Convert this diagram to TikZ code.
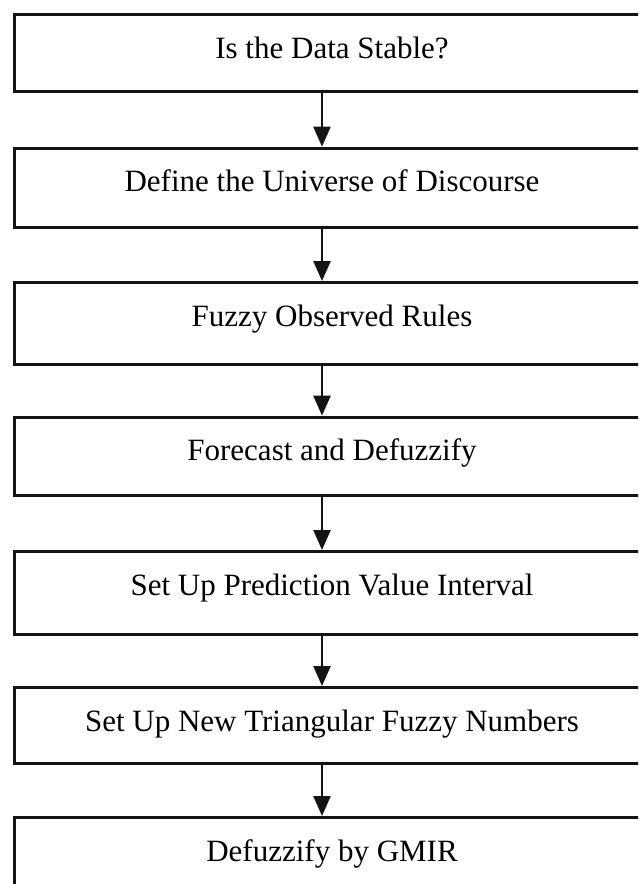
\documentclass[tikz,border=0pt]{standalone}
\usepackage{fontspec}
\setmainfont{Liberation Serif}
\usetikzlibrary{arrows.meta}
\definecolor{linecol}{HTML}{141414}
\begin{document}
\begin{tikzpicture}[x=1pt,y=1pt,
  stepbox/.style={draw=linecol, line width=3pt, inner sep=0pt, minimum width=636pt,
    anchor=north, text height=43.5pt, font=\fontsize{31}{36}\selectfont},
  flow/.style={draw=linecol, line width=2.5pt, -{Triangle[length=20pt,width=17pt]}}]
\path[use as bounding box] (0,0) rectangle (638,-884);
\clip (0,0) rectangle (638,-884);
\node[stepbox, text depth=32.7pt] (b1) at (332,-13.3) {Is the Data Stable?};
\node[stepbox, text depth=35.5pt] (b2) at (332,-146.7) {Define the Universe of Discourse};
\node[stepbox, text depth=38.2pt] (b3) at (332,-281) {Fuzzy Observed Rules};
\node[stepbox, text depth=34.8pt] (b4) at (332,-415.7) {Forecast and Defuzzify};
\node[stepbox, text depth=39.2pt] (b5) at (332,-550) {Set Up Prediction Value Interval};
\node[stepbox, text depth=32.5pt] (b6) at (332,-686) {Set Up New Triangular Fuzzy Numbers};
\node[stepbox, text depth=50pt] (b7) at (332,-816) {Defuzzify by GMIR};
\foreach \a/\b in {b1/b2,b2/b3,b3/b4,b4/b5,b5/b6,b6/b7}
  \draw[flow] ([xshift=-10pt]\a.south) -- ([xshift=-10pt]\b.north);
\end{tikzpicture}
\end{document}
